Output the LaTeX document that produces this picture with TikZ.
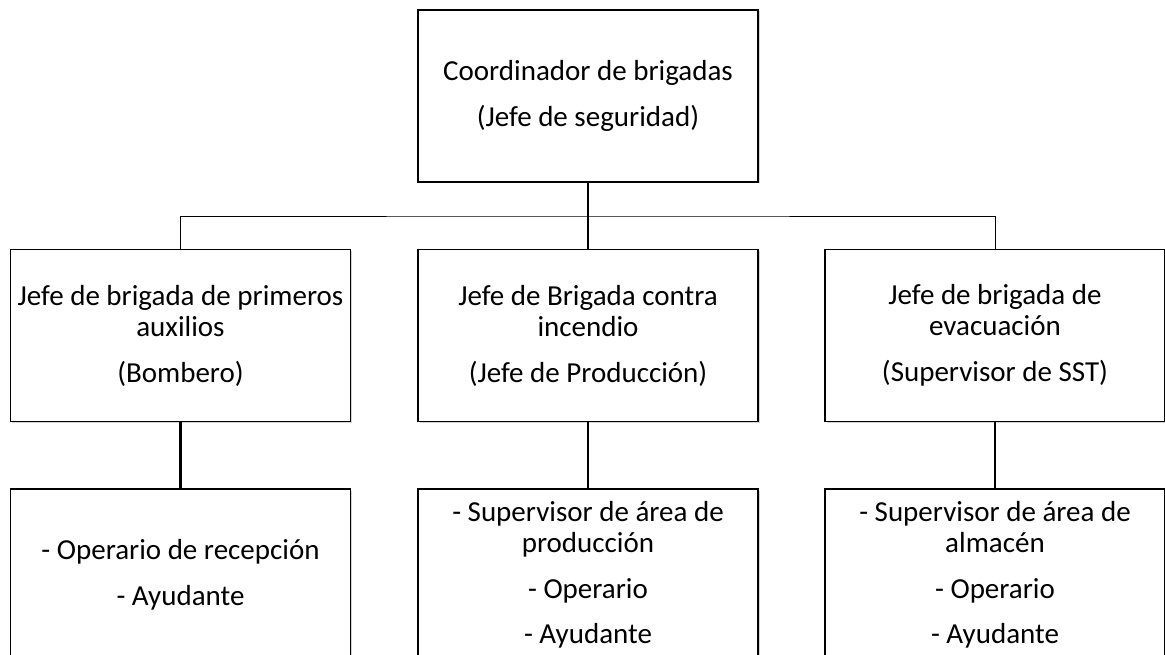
\documentclass[tikz,border=0pt]{standalone}
\usepackage{fontspec}
\setmainfont{Carlito}
\usetikzlibrary{
	positioning,
	shadows
}

\begin{document}
\begin{tikzpicture}[
        x=1pt, y=-1pt,
        font=\fontsize{29}{31}\selectfont,
        % caja del organigrama
        box/.style={
            rectangle, draw, line width=1.3pt,
            fill=white,
            minimum width=340pt,
            minimum height=172pt,
            align=center,
            inner sep=1pt,
            drop shadow={shadow xshift=1.5pt, shadow yshift=-1.5pt, opacity=0.35}
        },
        bus/.style={line width=0.9pt},
        link/.style={line width=2.6pt}
    ]

        \useasboundingbox (0,0) rectangle (1165,655);

        % ====================
        % Coordinador (Row 0)
        % ====================
        \node[box] (N1) at (588, 96) {Coordinador de brigadas\\[15pt](Jefe de seguridad)};

        % ====================
        % Jefes de brigada (Row 1)
        % ====================
        \node[box] (N2) at (180.5, 335.5) {Jefe de brigada de primeros\\auxilios\\[15pt](Bombero)};
        \node[box] (N3) at (588, 335.5) {Jefe de Brigada contra\\incendio\\[15pt](Jefe de Producción)};
        \node[box] (N4) at (995, 335.5) {Jefe de brigada de\\evacuación\\[15pt](Supervisor de SST)};

        % ====================
        % Integrantes (Row 2)
        % ====================
        \node[box] (N5) at (180.5, 575) {- Operario de recepción\\[15pt]- Ayudante};
        \node[box] (N6) at (588, 575) {- Supervisor de área de\\producción\\[15pt]- Operario\\[14pt]- Ayudante};
        \node[box] (N7) at (995, 575) {- Supervisor de área de\\almacén\\[15pt]- Operario\\[14pt]- Ayudante};

        % ====================
        % Conexiones
        % ====================
        \coordinate (bus) at (588, 216);
        \draw[bus] (N2.north) |- (bus) -| (N4.north);
        \draw[link] (N1.south) -- (N3.north);
        \draw[link] (N2.south) -- (N5.north);
        \draw[link] (N3.south) -- (N6.north);
        \draw[link] (N4.south) -- (N7.north);

    \end{tikzpicture}
\end{document}
